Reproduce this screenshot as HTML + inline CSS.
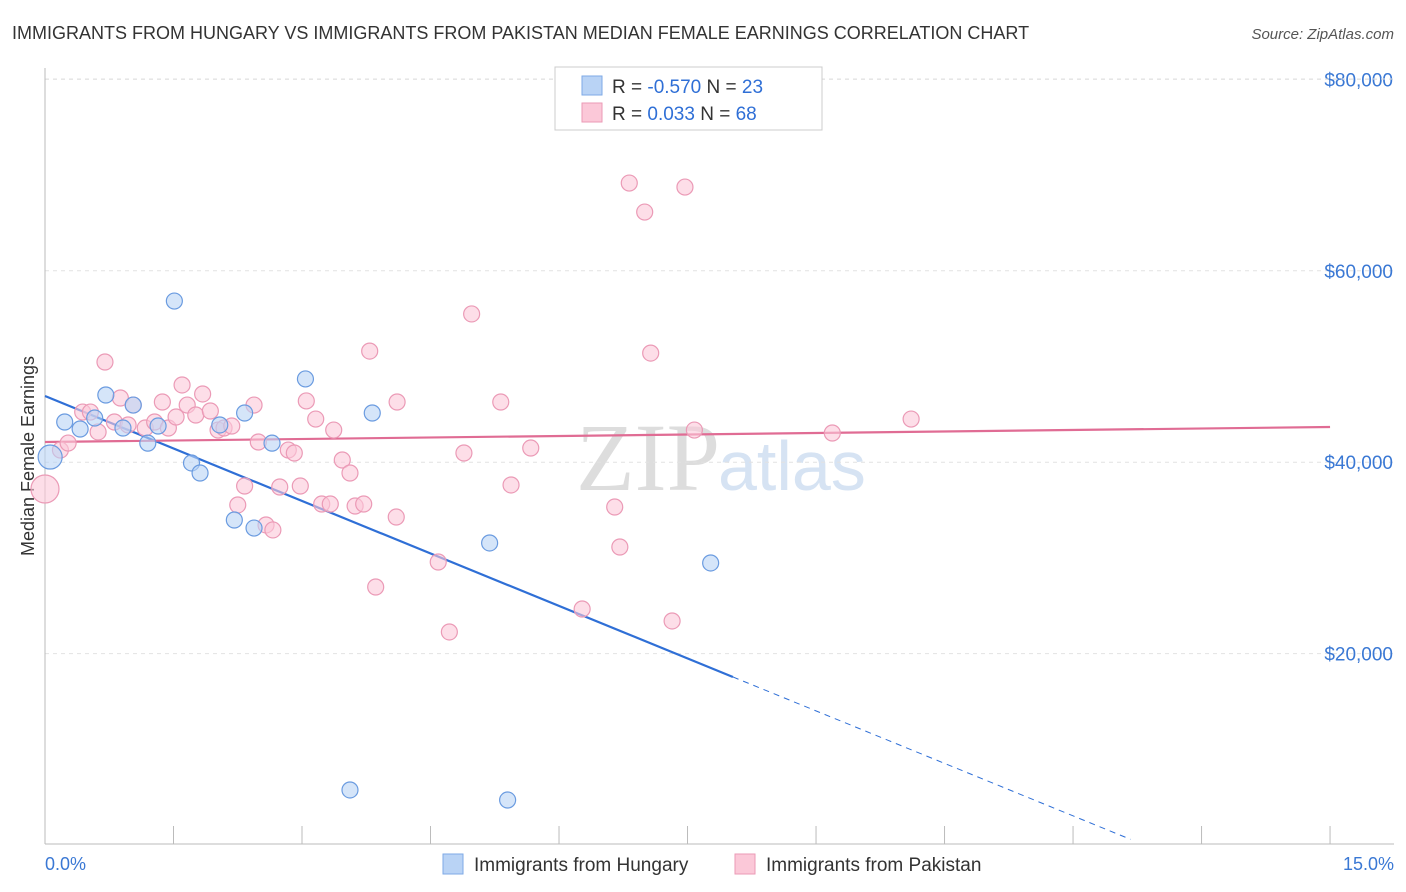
<!DOCTYPE html>
<html><head><meta charset="utf-8"><style>
body{margin:0;background:#fff;font-family:"Liberation Sans",sans-serif;}
svg{display:block}
</style></head><body>
<svg id="chart" width="1406" height="892">
<text x="12" y="39" font-size="18" fill="#333">IMMIGRANTS FROM HUNGARY VS IMMIGRANTS FROM PAKISTAN MEDIAN FEMALE EARNINGS CORRELATION CHART</text>
<text x="1394" y="39" font-size="15" fill="#555" font-style="italic" text-anchor="end">Source: ZipAtlas.com</text>
<text x="720" y="490" font-size="96" fill="#ddd" font-family="Liberation Serif,serif" text-anchor="end">ZIP</text>
<text x="718" y="490" font-size="70" fill="#d6e3f3">atlas</text>
<text transform="translate(34,456) rotate(-90)" font-size="18" fill="#333" text-anchor="middle">Median Female Earnings</text>
<g id="grid"></g><g id="axes"></g><g id="lines"></g><g id="pts"></g>
<g>
<rect x="555" y="67" width="267" height="63" fill="#fff" stroke="#ccc"/>
<rect x="582" y="76" width="20" height="19" fill="#b9d3f5" stroke="#7ea9e6"/>
<rect x="582" y="103" width="20" height="19" fill="#fbc8d8" stroke="#eb9ab6"/>
<text x="612" y="93" font-size="19" fill="#333">R = <tspan fill="#2f6fd6">-0.570</tspan>   N = <tspan fill="#2f6fd6">23</tspan></text>
<text x="612" y="120" font-size="19" fill="#333">R =   <tspan fill="#2f6fd6">0.033</tspan>   N = <tspan fill="#2f6fd6">68</tspan></text>
</g>
<g>
<rect x="443" y="854" width="20" height="20" fill="#b9d3f5" stroke="#7ea9e6"/>
<text x="474" y="871" font-size="19" fill="#333">Immigrants from Hungary</text>
<rect x="735" y="854" width="20" height="20" fill="#fbc8d8" stroke="#eb9ab6"/>
<text x="766" y="871" font-size="19" fill="#333">Immigrants from Pakistan</text>
</g>
<text x="45" y="870" font-size="18" fill="#3a78d4">0.0%</text>
<text x="1394" y="870" font-size="18" fill="#3a78d4" text-anchor="end">15.0%</text>
</svg>
<script>
const yTicks=[20000,40000,60000,80000];
const yTickLabels=["$20,000","$40,000","$60,000","$80,000"];
const xTicks=[0,1.5,3,4.5,6,7.5,9,10.5,12,13.5,15];
const hungaryX=[0.06,0.23,0.41,0.58,0.71,0.91,1.03,1.20,1.32,1.51,1.71,1.81,2.04,2.21,2.33,2.44,2.65,3.04,3.56,3.82,5.19,5.40,7.77];
const hungaryY=[40540,44200,43470,44620,47020,43570,45970,41990,43780,56840,39920,38870,43890,33960,45140,33120,41990,48700,5750,45140,31560,4700,29470];
const pakistanX=[0,0.18,0.27,0.44,0.53,0.62,0.70,0.81,0.88,0.97,1.03,1.17,1.28,1.37,1.44,1.53,1.60,1.66,1.76,1.84,1.93,2.02,2.09,2.18,2.25,2.33,2.44,2.49,2.58,2.66,2.74,2.84,2.91,2.98,3.05,3.16,3.23,3.33,3.37,3.47,3.56,3.62,3.72,3.79,3.86,4.10,4.11,4.59,4.72,4.89,4.98,5.32,5.44,5.67,6.27,6.65,6.71,6.82,7.00,7.07,7.32,7.47,7.58,9.19,10.11];
const pakistanY=[37200,41270,42000,45240,45240,43160,50470,44200,46710,43890,45970,43570,44200,46290,43570,44720,48070,45970,44930,47130,45350,43360,43570,43780,35530,37510,45970,42110,33440,32920,37410,41270,40960,37510,46400,44510,35630,35630,43360,40230,38870,35420,35630,51610,26960,34270,46290,29570,22260,40960,55490,46290,37620,41480,24660,35320,31140,69170,66140,51400,23410,68750,43360,43050,44510];
const X=v=>45+v*85.67, Y=v=>845-v*0.00957;
const ns="http://www.w3.org/2000/svg";
function mk(p,t,a){const e=document.createElementNS(ns,t);for(const k in a)e.setAttribute(k,a[k]);document.getElementById(p).appendChild(e);return e;}
yTicks.forEach((t,i)=>{
 const l=mk('grid','line',{x1:45,x2:1394,y1:Y(t),y2:Y(t),stroke:'#e2e2e2','stroke-dasharray':'4,4'});
 
 
 const tx=mk('grid','text',{x:1393,y:Y(t)+7,'font-size':19,fill:'#3a78d4','text-anchor':'end'});
 tx.textContent=yTickLabels[i];
 
 
});
const tg=mk('grid','line',{x1:45,x2:1394,y1:79,y2:79,stroke:'#e2e2e2','stroke-dasharray':'4,4'});


const ax=mk('axes','line',{x1:45,x2:1394,y1:844,y2:844,stroke:'#bbb'});


const ay=mk('axes','line',{x1:45,x2:45,y1:68,y2:844,stroke:'#bbb'});


xTicks.forEach(t=>{const l=mk('axes','line',{x1:X(t),x2:X(t),y1:826,y2:844,stroke:'#bbb'});
 
 });
function pt(g,x,y,r,f,s,name){const c=mk(g,'circle',{cx:X(x),cy:Y(y),r:r,fill:f,'fill-opacity':0.6,stroke:s,'stroke-width':1.2});
 
 }
pakistanX.forEach((x,i)=>pt('pts',x,pakistanY[i],i==0?14:8,'#fbc8d8','#eb9ab6','pakistan-point'));
hungaryX.forEach((x,i)=>pt('pts',x,hungaryY[i],i==0?12:8,'#b9d3f5','#6a9be0','hungary-point'));
const bl=mk('lines','line',{x1:X(0),y1:Y(46917),x2:X(8.03),y2:Y(46917-3656*8.03),stroke:'#2f6fd6','stroke-width':2.2});


const bd=mk('lines','line',{x1:X(8.03),y1:Y(46917-3656*8.03),x2:X(12.67),y2:Y(46917-3656*12.67),stroke:'#2f6fd6','stroke-width':1,'stroke-dasharray':'6,5'});


const pl=mk('lines','line',{x1:X(0),y1:Y(42110),x2:X(15),y2:Y(43680),stroke:'#e06c94','stroke-width':2.2});


</script>
</body></html>
